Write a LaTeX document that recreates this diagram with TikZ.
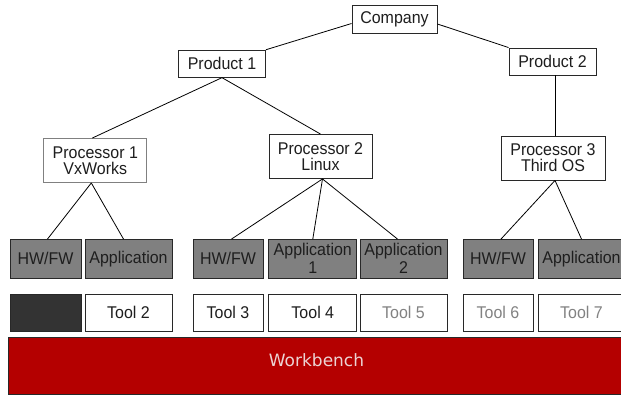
\documentclass[tikz,border=0pt]{standalone}
\usepackage{fontspec}
\setmainfont[FakeStretch=0.94]{Liberation Sans}
\newfontfamily\benchfont{DejaVu Sans}
\definecolor{edge}{RGB}{40,40,40}
\definecolor{midgray}{RGB}{128,128,128}
\definecolor{darkfill}{RGB}{51,51,51}
\definecolor{benchred}{RGB}{180,0,0}
\definecolor{benchtext}{RGB}{236,212,212}
\definecolor{inkdark}{RGB}{30,30,30}
\definecolor{softtext}{RGB}{130,130,130}
\tikzset{
  orgbox/.style={draw=edge, line width=0.9pt, fill=white, inner sep=0pt,
    align=center, text=inkdark, font=\fontsize{17}{16}\selectfont},
  modbox/.style={draw=edge, line width=0.9pt, fill=midgray, inner sep=0pt,
    align=center, text=inkdark, minimum height=38.5pt,
    font=\fontsize{17}{18}\selectfont},
  toolbox/.style={draw=edge, line width=0.9pt, fill=white, inner sep=0pt,
    align=center, text=inkdark, minimum height=37pt,
    font=\fontsize{17}{18}\selectfont},
  link/.style={draw=black, line width=0.8pt},
}
\begin{document}
\begin{tikzpicture}[x=1pt, y=-1pt]
\useasboundingbox (0,0) rectangle (621,396);
\clip (0,0) rectangle (621,396);

% hierarchy
\node[orgbox, minimum width=85pt, minimum height=28pt] (company) at (394.5,19) {Company};
\node[orgbox, minimum width=87pt, minimum height=27pt] (prod1) at (222,63.7) {Product 1};
\node[orgbox, minimum width=87pt, minimum height=27pt] (prod2) at (552.5,61.5) {Product 2};
\node[orgbox, draw=midgray, minimum width=103pt, minimum height=44pt] (proc1) at (95.3,160.5) {Processor 1\\VxWorks};
\node[orgbox, minimum width=103pt, minimum height=44pt] (proc2) at (320.5,156.5) {Processor 2\\Linux};
\node[orgbox, minimum width=104pt, minimum height=44pt] (proc3) at (553,158) {Processor 3\\Third OS};

% software / hardware modules
\node[modbox, minimum width=71pt] (hw1) at (45.5,258.75) {HW/FW};
\node[modbox, minimum width=87pt] (app1) at (128.5,258.75) {Application};
\node[modbox, minimum width=70pt] (hw2) at (228,258.75) {HW/FW};
\node[modbox, minimum width=88pt] (app2a) at (312.8,258.75) {Application\\1};
\node[modbox, minimum width=87pt] (app2b) at (403.5,258.75) {Application\\2};
\node[modbox, minimum width=70pt] (hw3) at (498,258.75) {HW/FW};
\node[modbox, minimum width=87pt] (app3) at (581.5,258.75) {Application};

% tools
\node[toolbox, fill=darkfill, minimum width=71pt] (tool1) at (45.5,312.5) {};
\node[toolbox, minimum width=87pt] (tool2) at (128.5,312.5) {Tool 2};
\node[toolbox, minimum width=70pt] (tool3) at (228,312.5) {Tool 3};
\node[toolbox, minimum width=88pt] (tool4) at (312.8,312.5) {Tool 4};
\node[toolbox, text=softtext, minimum width=87pt] (tool5) at (403.5,312.5) {Tool 5};
\node[toolbox, text=softtext, minimum width=70pt] (tool6) at (498,312.5) {Tool 6};
\node[toolbox, text=softtext, minimum width=87pt] (tool7) at (581.5,312.5) {Tool 7};

% workbench band
\node[draw=edge, line width=0.9pt, fill=benchred, inner sep=0pt,
  minimum width=617pt, minimum height=56.7pt] (bench) at (316.5,365.7) {};
\node[text=benchtext, font=\benchfont\fontsize{17}{17}\selectfont, anchor=base, inner sep=0pt]
  (benchlabel) at (316.5,366) {Workbench};

% connectors
\draw[link] ([yshift=-4.5pt]company.west) -- (prod1.north east);
\draw[link] ([yshift=-5pt]company.east) -- (prod2.north west);
\draw[link] (prod1.south) -- ([xshift=-3pt]proc1.north);
\draw[link] (prod1.south) -- (proc2.north);
\draw[link] ([xshift=2.5pt]prod2.south) -- ([xshift=2pt]proc3.north);

\coordinate (p1foot) at ([xshift=-4pt]proc1.south);
\coordinate (p2foot) at ([xshift=2pt]proc2.south);
\coordinate (p3foot) at ([xshift=2pt]proc3.south);
\draw[link] (p1foot) -- ([xshift=2pt]hw1.north);
\draw[link] (p1foot) -- ([xshift=-5pt]app1.north);
\draw[link] (p2foot) -- ([xshift=3.5pt]hw2.north);
\draw[link] (p2foot) -- (app2a.north);
\draw[link] (p2foot) -- ([xshift=-6pt]app2b.north);
\draw[link] (p3foot) -- ([xshift=3pt]hw3.north);
\draw[link] (p3foot) -- (app3.north);
\end{tikzpicture}
\end{document}
